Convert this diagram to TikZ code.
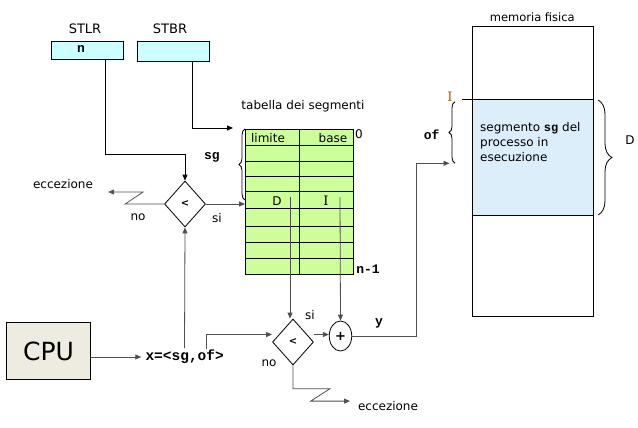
\documentclass[tikz,border=0pt]{standalone}
\usepackage{fontspec}
\setmainfont{DejaVu Sans}
\setmonofont{Liberation Mono}
\newfontfamily\serifI{DejaVu Serif}
\usetikzlibrary{shapes.geometric,arrows.meta,decorations.pathreplacing,calc}
\definecolor{regc}{HTML}{CCFFFF}
\definecolor{tabc}{HTML}{CCFF99}
\definecolor{segc}{HTML}{DDEEFB}
\definecolor{cpuc}{HTML}{EEEBE1}
\definecolor{linec}{HTML}{505050}
\definecolor{ic}{HTML}{B85C00}
\begin{document}
\begin{tikzpicture}[x=1pt,y=-1pt,
  txt/.style={inner sep=0pt,font=\fontsize{12}{15}\selectfont},
  mono/.style={inner sep=0pt,font=\fontsize{13}{15}\selectfont\ttfamily\bfseries},
  regbox/.style={draw,fill=regc,line width=0.8pt,minimum width=72pt,inner sep=0pt},
  cmp/.style={diamond,draw,line width=0.8pt,minimum width=41pt,minimum height=46pt,inner sep=0pt,aspect=0.89,font=\bfseries\fontsize{10}{10}\selectfont},
  arr/.style={draw=linec,line width=0.8pt,-{Triangle[length=6pt,width=5pt]}},
  barr/.style={draw=black,line width=0.8pt,-{Triangle[length=6pt,width=5pt]}},
  ln/.style={draw=linec,line width=0.8pt},
  frame/.style={draw,line width=0.8pt,inner sep=0pt},
  brc/.style={decorate,decoration={brace,amplitude=#1},draw,line width=0.8pt}
]
\useasboundingbox (0,0) rectangle (638,428);

% registers
\node[txt,font=\fontsize{13}{15}\selectfont] (stlrl) at (85,29) {STLR};
\node[txt,font=\fontsize{13}{15}\selectfont] (stbrl) at (170,29) {STBR};
\node[regbox,minimum height=18pt] (stlr) at (87,50) {};
\node[mono] (nval) at (81,49) {n};
\node[regbox,minimum height=20pt] (stbr) at (173,51) {};

% segment table
\node[txt] (tabt) at (303,106) {tabella dei segmenti};
\node[frame,fill=tabc,minimum width=108pt,minimum height=144.5pt] (tab) at (299.5,201.75) {};
\foreach \yy in {145,161,176,191,208,226,242,258}
  \draw[line width=0.8pt] (245.5,\yy) -- (353.5,\yy);
\draw[line width=0.8pt] (299.5,129.5) -- (299.5,274);
\node[txt] (lim) at (268,138) {limite};
\node[txt] (bas) at (333,138) {base};
\node[txt] (zero) at (359,134) {0};
\node[mono] (nm1) at (368,269) {n-1};
\node[txt] (dlab) at (277,201) {D};
\node[txt,font=\fontsize{13}{15}\serifI] (ilab) at (326,201) {I};
\coordinate (dsrc) at (290,197);
\coordinate (isrc) at (340,197);
\draw[brc=6pt] (245,200) -- (245,129);
\node[mono] (sgl) at (212,157) {sg};
\coordinate (tabin) at (233,128);

% comparator 1
\node[cmp] (d1) at (185,204) {<};
\node[txt] (no1) at (138,217) {no};
\node[txt] (si1) at (217,218) {si};
\node[txt] (ecc1) at (63,184) {eccezione};

% CPU
\node[frame,fill=cpuc,minimum width=84.4pt,minimum height=57.7pt,font=\fontsize{25}{28}\selectfont] (cpu) at (48.5,351) {CPU};
\node[mono,font=\fontsize{14.5}{16}\selectfont\ttfamily\bfseries] (xlab) at (184.7,357) {x=<sg,of>};
\coordinate (xsg) at (184.5,348);
\coordinate (xof) at (206.7,349);

% comparator 2 and adder
\node[cmp] (d2) at (293,342) {<};
\node[frame,ellipse,minimum width=22.5pt,minimum height=30pt,font=\bfseries\fontsize{13}{13}\selectfont] (plus) at (340.5,336) {+};
\node[txt] (si2) at (310,315) {si};
\node[txt] (no2) at (269,363) {no};
\node[mono] (ylab) at (379,323) {y};
\node[txt] (ecc2) at (388,406) {eccezione};

% physical memory
\node[txt,font=\fontsize{11.5}{14}\selectfont] (meml) at (532.3,17.3) {memoria fisica};
\node[inner sep=0pt,fill=segc,minimum width=120.6pt,minimum height=115.7pt] (seg) at (533,157.2) {};
\node[frame,minimum width=120.6pt,minimum height=290pt] (mem) at (533,171.7) {};
\draw[line width=0.8pt] (seg.north west) -- (seg.north east);
\draw[line width=0.8pt] (seg.south west) -- (seg.south east);
\draw[line width=0.8pt] (seg.north west) -- ++(-11,0);
\node[txt,align=left,anchor=west] (segt) at (480,142) {segmento {\ttfamily\bfseries sg} del\\processo in\\esecuzione};
\node[txt,text=ic,font=\fontsize{13}{15}\serifI] (imem) at (450,96.7) {I};
\draw[brc=6pt] (455,163.3) -- (455,101.7);
\node[mono] (ofl) at (431.7,135) {of};
\draw[brc=14pt] (598,100) -- (598,215);
\node[txt] (dmem) at (630,140) {D};
\coordinate (ofin) at (449.5,163.3);

% connectors
\draw[barr] ([xshift=18pt]stlr.south) -- ++(0,95) -| (d1.north);
\draw[barr] ([xshift=19pt]stbr.south) |- (tabin);
\draw[arr] (d1.east) -- (d1.east -| tab.west);
\draw[arr] (d1.west) -- ++(-39,0) -- ++(18,-12) -- ++(-35,0);
\draw[arr] (cpu.east |- xlab.west) -- ([xshift=-4pt]xlab.west);
\draw[arr] (xsg) -- (d1.south);
\draw[arr] (xof) |- ([yshift=7.5pt]d2.west);
\draw[arr] (dsrc) -- (dsrc |- d2.north);
\draw[arr] (isrc) -- (plus.north);
\draw[arr] ([yshift=7.5pt]d2.east) -- ([yshift=7.5pt]d2.east -| plus.west);
\draw[arr] (plus.east) -| ([xshift=-33pt]ofin) -- (ofin);
\draw[arr] (d2.south) -- ++(0,23.3) -- ++(37,0) -- ++(-19.3,12.4) -- ++(39.3,0);
\end{tikzpicture}
\end{document}
